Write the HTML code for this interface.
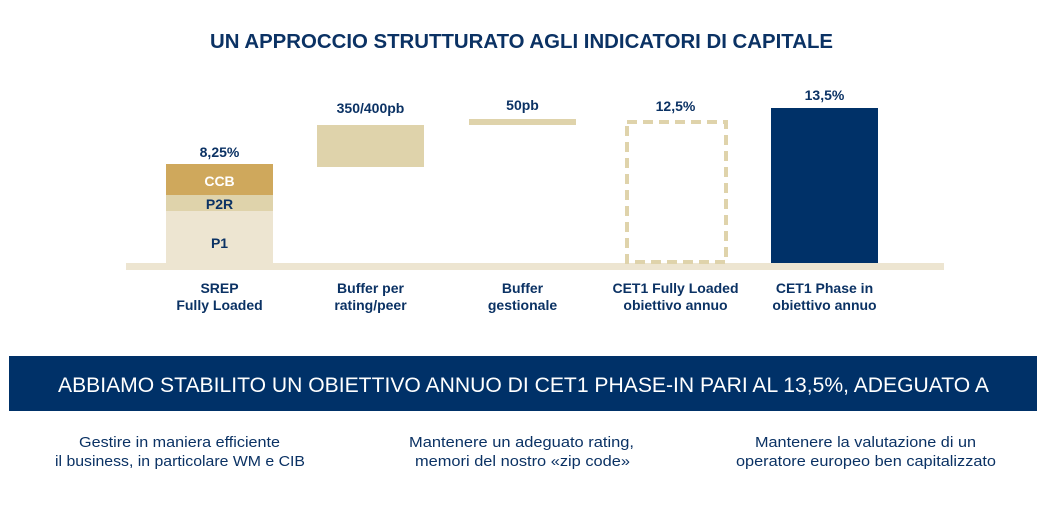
<!DOCTYPE html>
<html><head><meta charset="utf-8"><style>
html,body{margin:0;padding:0;background:#fff;width:1043px;height:520px;overflow:hidden}
svg{display:block}
text{font-family:"Liberation Sans",sans-serif;fill:#0b3264}
.b{font-weight:bold}
</style></head><body>
<svg width="1043" height="520" viewBox="0 0 1043 520">
<text class="b" x="210" y="48" font-size="20" textLength="623" lengthAdjust="spacingAndGlyphs">UN APPROCCIO STRUTTURATO AGLI INDICATORI DI CAPITALE</text>
<!-- baseline -->
<rect x="126" y="263" width="818" height="7" fill="#ede5d1"/>
<!-- SREP -->
<rect x="166" y="211" width="107" height="52" fill="#ede5d1"/>
<rect x="166" y="195" width="107" height="16" fill="#dfd3ab"/>
<rect x="166" y="164" width="107" height="31" fill="#cfa85c"/>
<text class="b" x="219.5" y="186" font-size="14" text-anchor="middle" style="fill:#fff">CCB</text>
<text class="b" x="219.5" y="209" font-size="14" text-anchor="middle">P2R</text>
<text class="b" x="219.5" y="248" font-size="14" text-anchor="middle">P1</text>
<text class="b" x="219.5" y="157" font-size="14" text-anchor="middle">8,25%</text>
<!-- buffer per rating -->
<rect x="317" y="125" width="107" height="42" fill="#dfd3ab"/>
<text class="b" x="370.5" y="113" font-size="14" text-anchor="middle">350/400pb</text>
<!-- 50pb -->
<rect x="469" y="119" width="107" height="6" fill="#dfd3ab"/>
<text class="b" x="522.5" y="110" font-size="14" text-anchor="middle">50pb</text>
<!-- dashed -->
<rect x="627" y="122" width="99" height="140" fill="none" stroke="#dfd3ab" stroke-width="4" stroke-dasharray="10,6"/>
<text class="b" x="675.5" y="111" font-size="14" text-anchor="middle">12,5%</text>
<!-- navy -->
<rect x="771" y="108" width="107" height="155" fill="#003168"/>
<text class="b" x="824.5" y="100" font-size="14" text-anchor="middle">13,5%</text>
<!-- labels -->
<g class="b" font-size="14" text-anchor="middle">
<text class="b" x="219.5" y="293">SREP</text>
<text class="b" x="219.5" y="310">Fully Loaded</text>
<text class="b" x="370.5" y="293">Buffer per</text>
<text class="b" x="370.5" y="310">rating/peer</text>
<text class="b" x="522.5" y="293">Buffer</text>
<text class="b" x="522.5" y="310">gestionale</text>
<text class="b" x="675.5" y="293">CET1 Fully Loaded</text>
<text class="b" x="675.5" y="310">obiettivo annuo</text>
<text class="b" x="824.5" y="293">CET1 Phase in</text>
<text class="b" x="824.5" y="310">obiettivo annuo</text>
</g>
<!-- banner -->
<rect x="9" y="356" width="1028" height="55" fill="#003168"/>
<text x="58" y="392" font-size="21" style="fill:#fff" textLength="931" lengthAdjust="spacingAndGlyphs">ABBIAMO STABILITO UN OBIETTIVO ANNUO DI CET1 PHASE-IN PARI AL 13,5%, ADEGUATO A</text>
<!-- bottom -->
<g font-size="15">
<text x="79" y="447" textLength="201" lengthAdjust="spacingAndGlyphs">Gestire in maniera efficiente</text>
<text x="55" y="466" textLength="250" lengthAdjust="spacingAndGlyphs">il business, in particolare WM e CIB</text>
<text x="409" y="447" textLength="225" lengthAdjust="spacingAndGlyphs">Mantenere un adeguato rating,</text>
<text x="415" y="466" textLength="215" lengthAdjust="spacingAndGlyphs">memori del nostro «zip code»</text>
<text x="755" y="447" textLength="221" lengthAdjust="spacingAndGlyphs">Mantenere la valutazione di un</text>
<text x="736" y="466" textLength="260" lengthAdjust="spacingAndGlyphs">operatore europeo ben capitalizzato</text>
</g>
</svg>
</body></html>
